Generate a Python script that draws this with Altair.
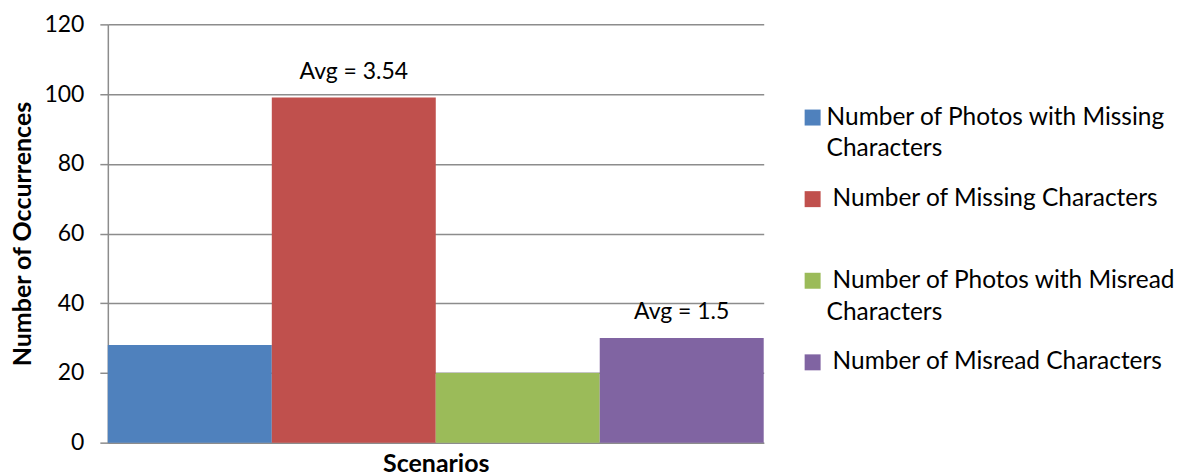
import altair as alt
import pandas as pd

series = [
    "Number of Photos with Missing Characters",
    "Number of Missing Characters",
    "Number of Photos with Misread Characters",
    "Number of Misread Characters",
]
values = [28, 99, 20, 30]
avg_labels = ["", "Avg = 3.54", "", "Avg = 1.5"]
legend_line1 = [
    "Number of Photos with Missing",
    "Number of Missing Characters",
    "Number of Photos with Misread",
    "Number of Misread Characters",
]
legend_line2 = ["Characters", "", "Characters", ""]
colors = ["#4F81BD", "#C0504D", "#9BBB59", "#8064A2"]
y_ticks = [0, 20, 40, 60, 80, 100, 120]

FONT = "Lato"
GRAY = "#8C8C8C"

df = pd.DataFrame(
    {
        "series": series,
        "value": values,
        "avg": avg_labels,
        "line1": legend_line1,
        "line2": legend_line2,
    }
)

color_scale = alt.Scale(domain=series, range=colors)

base = alt.Chart(df).encode(
    x=alt.X(
        "series:N",
        sort=series,
        scale=alt.Scale(paddingInner=0, paddingOuter=0),
        axis=alt.Axis(
            title="Scenarios",
            labels=False,
            ticks=False,
            domainColor=GRAY,
            domainWidth=1.5,
            titleFont=FONT,
            titleFontSize=25,
            titleFontWeight="bold",
            titleColor="#000000",
            titlePadding=9,
        ),
    )
)

bars = base.mark_bar().encode(
    y=alt.Y(
        "value:Q",
        scale=alt.Scale(domain=[0, 120], nice=False),
        axis=alt.Axis(
            title="Number of Occurrences",
            values=y_ticks,
            grid=True,
            gridColor=GRAY,
            gridWidth=1.5,
            domainColor=GRAY,
            domainWidth=1.5,
            tickColor=GRAY,
            tickWidth=1.5,
            tickSize=8,
            labelFont=FONT,
            labelFontSize=23,
            labelColor="#000000",
            labelPadding=16,
            titleFont=FONT,
            titleFontSize=25,
            titleFontWeight="bold",
            titleColor="#000000",
            titlePadding=8,
        ),
    ),
    color=alt.Color("series:N", scale=color_scale, legend=None),
)

avg_text = base.mark_text(
    baseline="middle", dy=-26, font=FONT, fontSize=23, color="#000000"
).encode(y=alt.Y("value:Q"), text="avg:N")

main = alt.layer(bars, avg_text).properties(width=657, height=419)

leg_base = alt.Chart(df).encode(
    y=alt.Y(
        "series:N",
        sort=series,
        scale=alt.Scale(type="band", paddingInner=0, paddingOuter=0.563, align=0.57),
        axis=None,
    )
)
leg_sym = leg_base.mark_square(size=256, opacity=1).encode(
    x=alt.value(49), color=alt.Color("series:N", scale=color_scale, legend=None)
)
txt_style = dict(align="left", baseline="middle", font=FONT, fontSize=24.5, color="#000000")
leg_first = (
    leg_base.mark_text(**txt_style)
    .encode(x=alt.value(63), text="line1:N")
    .transform_filter(alt.datum.series == series[0])
)
leg_rest = (
    leg_base.mark_text(**txt_style)
    .encode(x=alt.value(69), text="line1:N")
    .transform_filter(alt.datum.series != series[0])
)
leg_second = leg_base.mark_text(dy=32, **txt_style).encode(x=alt.value(63), text="line2:N")

legend = alt.layer(leg_sym, leg_first, leg_rest, leg_second).properties(width=400, height=419)

chart = (
    alt.hconcat(main, legend, spacing=0)
    .properties(padding={"left": 2, "top": 5, "right": 0, "bottom": 0})
    .configure_view(stroke=None)
)

chart.save("out.html", embed_options={"renderer": "svg", "actions": False})
